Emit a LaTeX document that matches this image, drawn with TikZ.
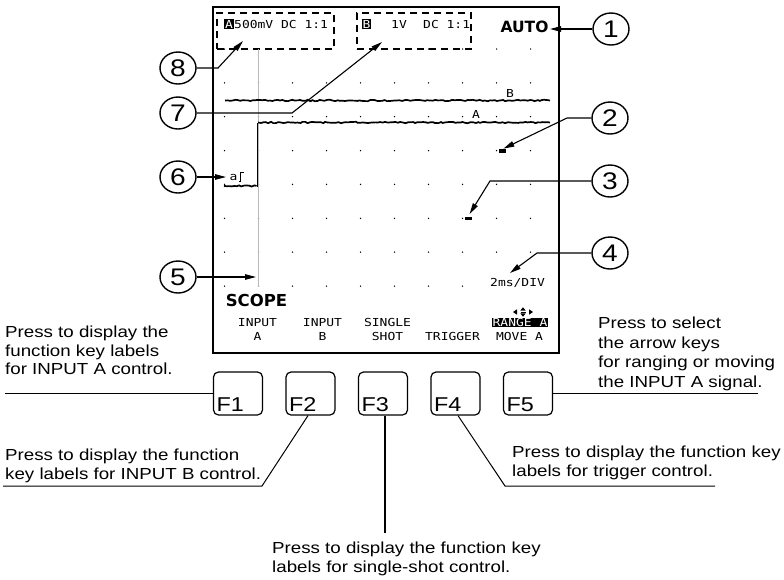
\documentclass[tikz,border=0pt]{standalone}
\usepackage{fontspec}
\setmainfont{Liberation Sans}
\newfontfamily\annfont[FakeStretch=1.17]{Liberation Sans}
\newfontfamily\lcdfont[FakeStretch=1.18]{DejaVu Sans Mono}
\newfontfamily\lcdbold{DejaVu Sans}
\usetikzlibrary{shapes.geometric, arrows.meta, decorations.pathmorphing, calc}
\tikzset{
  lbl/.style={ellipse, draw, line width=1.4pt, minimum width=36pt, minimum height=32pt, inner sep=0pt, font=\annfont\fontsize{24}{24}\selectfont},
  lead/.style={line width=1.1pt, -{Triangle[length=11pt,width=5.5pt]}},
  plainline/.style={line width=1.2pt},
  lcd/.style={font=\lcdfont\fontsize{11}{11}\selectfont, inner sep=0pt},
  inv/.style={lcd, fill=black, text=white, inner sep=0.7pt},
  fkey/.style={draw, rounded corners=5pt, line width=1.2pt, minimum width=49pt, minimum height=43pt, inner sep=0pt},
  fklab/.style={font=\annfont\fontsize{20}{20}\selectfont, inner sep=0pt, anchor=base west},
  ann/.style={font=\annfont\fontsize{16}{18.5}\selectfont, align=left, inner sep=0pt, anchor=north west},
  trace/.style={line width=1.7pt, decorate, decoration={random steps, segment length=2.5pt, amplitude=0.7pt}},
  dbox/.style={draw, line width=1.7pt, dash pattern=on 7pt off 5pt, inner sep=0pt},
  marker/.style={fill=black, minimum width=7pt, minimum height=3.5pt, inner sep=0pt}
}
\pgfmathsetseed{7}
\begin{document}
\begin{tikzpicture}[x=1pt,y=-1pt]
\useasboundingbox (0,0) rectangle (784,579);

% screen
\node[draw, line width=2pt, minimum width=346pt, minimum height=346pt, inner sep=0pt] (scr) at (386,180) {};

% grid dots
\foreach \i in {0,...,9} \foreach \j in {0,...,6} \fill ({224.5+34*\i},{49+33.86*\j}) circle (0.75pt);
\foreach \i in {0,...,7} \fill ({224.5+34*\i},286) circle (0.75pt);

% header boxes
\node[dbox, minimum width=117pt, minimum height=36pt] (boxA) at (275.5,31) {};
\node[dbox, minimum width=114pt, minimum height=36pt] (boxB) at (414,31) {};
\node[inv] (invA) at (229,24) {A};
\node[lcd, anchor=west] (hA) at (234,24) {500mV DC 1:1};
\node[inv] (invB) at (366.5,24) {B};
\node[lcd, anchor=west] (hB1) at (391,24) {1V};
\node[lcd, anchor=west] (hB2) at (423,24) {DC 1:1};
\node[font=\lcdbold\bfseries\fontsize{15.5}{15.5}\selectfont, inner sep=0pt] (auto) at (524.5,27) {AUTO};

% cursor line
\draw[gray!55, line width=0.9pt] (258,49) -- (258,287);

% traces
\draw[trace] (225,100.5) -- (550,100.5);
\draw[trace] (224,186) -- (256.5,186);
\draw[line width=1.7pt] (257.5,187) -- (257.5,122.5);
\draw[trace] (258,122.5) -- (550,122.5);
\node[lcd] (lB) at (510,93) {B};
\node[lcd] (lA) at (476,114) {A};

% trigger symbol
\node[lcd] (trig) at (233.5,177) {a};
\draw[line width=0.9pt] (238.5,181) -- (240.5,181) -- (240.5,172.5) -- (243.5,172.5);

% markers
\node[marker] (m2) at (502.5,151) {};
\node[marker] (m3) at (468,218.5) {};

% bottom screen text
\node[lcd, anchor=west] (ms) at (490,283) {2ms/DIV};
\node[font=\lcdbold\bfseries\fontsize{16.5}{16.5}\selectfont, inner sep=0pt] (scope) at (256.5,300) {SCOPE};
\node[lcd] (s1a) at (257.5,322.5) {INPUT};
\node[lcd] (s1b) at (257.5,336) {A};
\node[lcd] (s2a) at (322.5,322.5) {INPUT};
\node[lcd] (s2b) at (322.5,336) {B};
\node[lcd] (s3a) at (387.5,322.5) {SINGLE};
\node[lcd] (s3b) at (387.5,336) {SHOT};
\node[lcd] (s4b) at (452.5,336) {TRIGGER};
\node[inv] (s5a) at (520,322.5) {RANGE A};
\node[lcd] (s5b) at (519.5,336) {MOVE A};
% arrow keys symbol
\fill (513,312) -- (517,309.3) -- (517,314.7) -- cycle;
\fill (533,312) -- (529,309.3) -- (529,314.7) -- cycle;
\fill (523,307.3) -- (520.3,310.6) -- (525.7,310.6) -- cycle;
\fill (523,316.7) -- (520.3,313.4) -- (525.7,313.4) -- cycle;
\draw[line width=0.6pt] (520.5,312) -- (525.5,312);

% numbered callouts
\node[lbl] (c1) at (611,29) {1};
\node[lbl] (c2) at (610,118) {2};
\node[lbl] (c3) at (610,181) {3};
\node[lbl] (c4) at (610,253) {4};
\node[lbl] (c5) at (178,277) {5};
\node[lbl] (c6) at (178,177) {6};
\node[lbl] (c7) at (178,113) {7};
\node[lbl] (c8) at (178,68) {8};

\coordinate (t1) at (550,29);
\coordinate (k2) at (567,118);
\coordinate (k3) at (490,181);
\coordinate (k4) at (537,253);
\coordinate (t4) at (510,273);
\coordinate (t5) at (256,277);
\coordinate (t6) at (226,177);
\coordinate (k7) at (292,113);
\coordinate (t7) at (382,42);
\coordinate (k8) at (218,68);
\coordinate (t8) at (243,41);

\draw[lead] (c1.west) -- (t1);
\draw[lead, shorten >=1pt] (c2.west) -- (k2) -- (m2.north);
\draw[lead, shorten >=3pt] (c3.west) -- (k3) -- (m3.north);
\draw[lead] (c4.west) -- (k4) -- (t4);
\draw[lead] (c5.east) -- (t5);
\draw[lead] (c6.east) -- (t6);
\draw[lead] (c7.east) -- (k7) -- (t7);
\draw[lead] (c8.east) -- (k8) -- (t8);

% function keys
\node[fkey] (f1) at (238,393.5) {};
\node[fkey] (f2) at (310.5,393.5) {};
\node[fkey] (f3) at (383,393.5) {};
\node[fkey] (f4) at (455.5,393.5) {};
\node[fkey] (f5) at (528,393.5) {};
\node[fklab] at ($(f1.south west)+(3.5,-4.5)$) {F1};
\node[fklab] at ($(f2.south west)+(3.5,-4.5)$) {F2};
\node[fklab] at ($(f3.south west)+(3.5,-4.5)$) {F3};
\node[fklab] at ($(f4.south west)+(3.5,-4.5)$) {F4};
\node[fklab] at ($(f5.south west)+(3.5,-4.5)$) {F5};

% annotations
\node[ann] (a1) at (5,326) {Press to display the\\function key labels\\for INPUT A control.};
\node[ann, font=\annfont\fontsize{16}{19.5}\selectfont] (a5) at (598,317) {Press to select\\the arrow keys\\for ranging or moving\\the INPUT A signal.};
\node[ann] (a2) at (5,449) {Press to display the function\\key labels for INPUT B control.};
\node[ann] (a4) at (512,446) {Press to display the function key\\labels for trigger control.};
\node[ann] (a3) at (272,542) {Press to display the function key\\labels for single-shot control.};

\coordinate (e1) at (5,393.5);
\coordinate (e5) at (758,393.5);
\coordinate (k2b) at (262,486);
\coordinate (e2) at (3,486);
\coordinate (e3) at (385,533);
\coordinate (k4b) at (505,486);
\coordinate (e4) at (715,486);

\draw[line width=1.6pt] (f1.west) -- (e1);
\draw[line width=1.6pt] (f5.east) -- (e5);
\draw[line width=1pt] ($(f2.south)+(-2.5,0)$) -- (k2b) -- (e2);
\draw[line width=1.8pt] (f3.south -| e3) -- (e3);
\draw[line width=1pt] ($(f4.south)+(2.5,0)$) -- (k4b) -- (e4);
\end{tikzpicture}
\end{document}
